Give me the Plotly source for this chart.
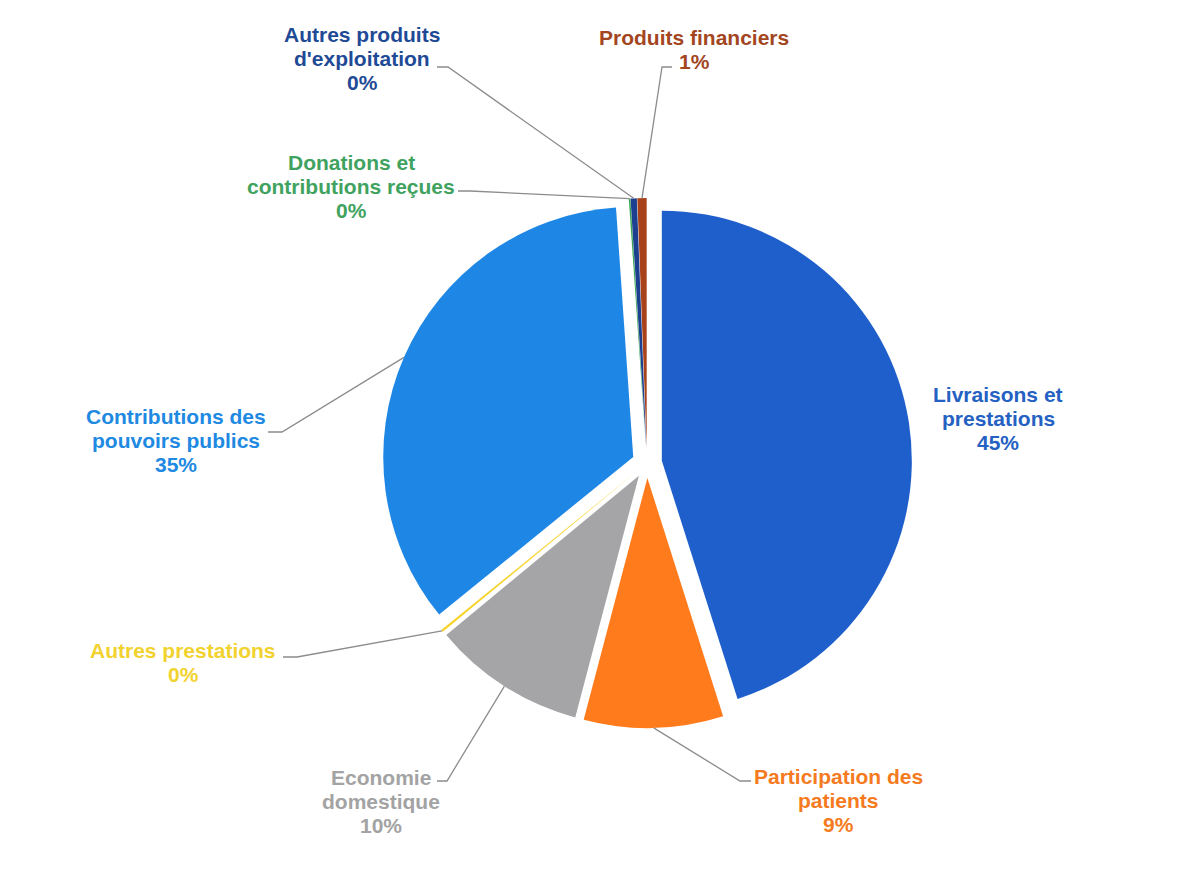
import math
import plotly.graph_objects as go

# ---------------- data ----------------
categories = [
    "Livraisons et prestations",
    "Participation des patients",
    "Economie domestique",
    "Autres prestations",
    "Contributions des pouvoirs publics",
    "Donations et contributions reçues",
    "Autres produits d'exploitation",
    "Produits financiers",
]
label_texts = [
    "Livraisons et<br>prestations",
    "Participation des<br>patients",
    "Economie<br>domestique",
    "Autres prestations",
    "Contributions des<br>pouvoirs publics",
    "Donations et<br>contributions reçues",
    "Autres produits<br>d'exploitation",
    "Produits financiers",
]
shares = [45.1, 9.0, 9.9, 0.15, 34.75, 0.1, 0.4, 0.6]

# ---------------- styles ----------------
slice_colors = ["#1F5FCB", "#FF7B1C", "#A5A5A7", "#F7D32A",
                "#1E86E4", "#3AA655", "#1D3F8F", "#A8421B"]
text_colors = ["#2461C2", "#F57A20", "#A3A3A3", "#F2D22E",
               "#2089E2", "#3FA35F", "#1F4A96", "#A3461F"]

W, H = 1179, 881
OFF = 8                        # page body margin
CX, CY, R = 647, 463, 250      # pie centre / radius in page pixels
PULL = 0.06
FONT_SIZE = 21
LINE_GAP = 24

# label block centres (pixels) and connector (start x, y, elbow x) -- layout only
label_pos = [(998, 418), (838, 800), (381, 801), (183, 662),
             (176, 440), (351, 186), (362, 59), (694, 50)]
connectors = [None, (751, 781, 740), (437, 781, 447), (283, 657, 297),
              (268, 432, 282), (458, 191, 470), (437, 67, 448), (672, 67, 662)]


def px(x):
    return (x - OFF) / W


def py(y):
    return 1 - (y - OFF) / H


half = R * (1 + PULL)
dom_x = [px(CX - half), px(CX + half)]
dom_y = [py(CY + half), py(CY - half)]

fig = go.Figure(go.Pie(
    labels=categories,
    values=shares,
    sort=False,
    direction="clockwise",
    rotation=0,
    pull=[PULL] * len(shares),
    marker=dict(colors=slice_colors, line=dict(width=0)),
    textinfo="none",
    hoverinfo="label+percent",
    showlegend=False,
    domain=dict(x=dom_x, y=dom_y),
))

total = sum(shares)
cum = 0.0
shapes = []
annotations = []
for i, v in enumerate(shares):
    mid = (cum + v / 2) / total * 2 * math.pi
    cum += v
    ax_px = CX + half * math.sin(mid)
    ay_px = CY - half * math.cos(mid)
    lx, ly = label_pos[i]
    lines = label_texts[i].split("<br>") + [f"{round(v)}%"]
    n = len(lines)
    for j, line in enumerate(lines):
        yy = ly + (j - (n - 1) / 2) * LINE_GAP
        annotations.append(dict(
            x=px(lx), y=py(yy), xref="paper", yref="paper",
            xanchor="center", yanchor="middle", align="center",
            showarrow=False,
            text=f"<b>{line}</b>",
            font=dict(family="Liberation Sans, Arial, sans-serif",
                      size=FONT_SIZE, color=text_colors[i]),
        ))
    c = connectors[i]
    if c is not None:
        sx, sy, ex = c
        path = (f"M {px(sx)},{py(sy)} L {px(ex)},{py(sy)} "
                f"L {px(ax_px)},{py(ay_px)}")
        shapes.append(dict(type="path", path=path, xref="paper", yref="paper",
                           line=dict(color="#8C8C8C", width=1.3)))

fig.update_layout(
    width=W, height=H,
    margin=dict(l=0, r=0, t=0, b=0),
    paper_bgcolor="white",
    plot_bgcolor="white",
    shapes=shapes,
    annotations=annotations,
)

fig.write_html("out.html")
